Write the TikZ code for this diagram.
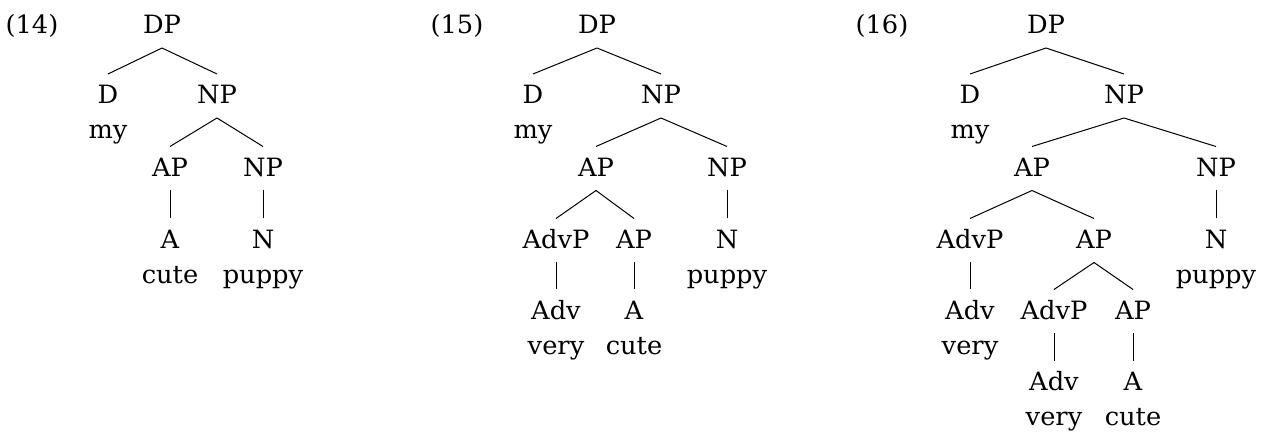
\documentclass[tikz,border=0pt]{standalone}
\usepackage{fontspec}
\setmainfont{DejaVu Serif}[FakeStretch=1.02]
\begin{document}
\begin{tikzpicture}[x=0.5pt,y=-0.5pt,
  txt/.style={anchor=base, font=\fontsize{12.6}{14}\selectfont},
  cat/.style={txt, inner xsep=0pt, inner ysep=6.8pt, text height=8pt, text depth=0pt},
  word/.style={txt, inner sep=0pt},
  edge/.style={line width=0.5pt}]
\useasboundingbox (0,0) rectangle (1265,432);
% ---------- (14)
\node[word] (l14) at (32,34) {(14)};
\node[cat] (a-dp) at (162,34) {DP};
\node[cat] (a-d) at (108,104) {D};
\node[word] (a-my) at (108,139) {my};
\node[cat] (a-np) at (217,104) {NP};
\node[cat] (a-ap) at (170,176.5) {AP};
\node[cat] (a-npb) at (263,176.5) {NP};
\node[cat] (a-a) at (170,248.5) {A};
\node[word] (a-cute) at (170,283.5) {cute};
\node[cat] (a-n) at (263,248.5) {N};
\node[word] (a-puppy) at (263,283.5) {puppy};
\draw[edge] (a-dp.south) -- (a-d.north);
\draw[edge] (a-dp.south) -- (a-np.north);
\draw[edge] (a-np.south) -- (a-ap.north);
\draw[edge] (a-np.south) -- (a-npb.north);
\draw[edge] (a-ap.south) -- (a-a.north);
\draw[edge] (a-npb.south) -- (a-n.north);
% ---------- (15)
\node[word] (l15) at (457,34) {(15)};
\node[cat] (b-dp) at (597,34) {DP};
\node[cat] (b-d) at (533,104) {D};
\node[word] (b-my) at (533,139) {my};
\node[cat] (b-np) at (661,104) {NP};
\node[cat] (b-ap) at (596,176.5) {AP};
\node[cat] (b-npb) at (727,176.5) {NP};
\node[cat] (b-advp) at (556,248.5) {AdvP};
\node[cat] (b-apb) at (634,248.5) {AP};
\node[cat] (b-adv) at (556,319.5) {Adv};
\node[word] (b-very) at (556,354.5) {very};
\node[cat] (b-a) at (634,319.5) {A};
\node[word] (b-cute) at (634,354.5) {cute};
\node[cat] (b-n) at (727,248.5) {N};
\node[word] (b-puppy) at (727,283.5) {puppy};
\draw[edge] (b-dp.south) -- (b-d.north);
\draw[edge] (b-dp.south) -- (b-np.north);
\draw[edge] (b-np.south) -- (b-ap.north);
\draw[edge] (b-np.south) -- (b-npb.north);
\draw[edge] (b-ap.south) -- (b-advp.north);
\draw[edge] (b-ap.south) -- (b-apb.north);
\draw[edge] (b-advp.south) -- (b-adv.north);
\draw[edge] (b-apb.south) -- (b-a.north);
\draw[edge] (b-npb.south) -- (b-n.north);
% ---------- (16)
\node[word] (l16) at (882,34) {(16)};
\node[cat] (c-dp) at (1046,34) {DP};
\node[cat] (c-d) at (970,104) {D};
\node[word] (c-my) at (970,139) {my};
\node[cat] (c-np) at (1124,104) {NP};
\node[cat] (c-ap) at (1032,176.5) {AP};
\node[cat] (c-npb) at (1216,176.5) {NP};
\node[cat] (c-advp) at (970,248.5) {AdvP};
\node[cat] (c-apb) at (1094,248.5) {AP};
\node[cat] (c-adv) at (970,319.5) {Adv};
\node[word] (c-very) at (970,354.5) {very};
\node[cat] (c-advpb) at (1054,319.5) {AdvP};
\node[cat] (c-apc) at (1133,319.5) {AP};
\node[cat] (c-advb) at (1054,391) {Adv};
\node[word] (c-veryb) at (1054,426) {very};
\node[cat] (c-a) at (1133,391) {A};
\node[word] (c-cute) at (1133,426) {cute};
\node[cat] (c-n) at (1216,248.5) {N};
\node[word] (c-puppy) at (1216,283.5) {puppy};
\draw[edge] (c-dp.south) -- (c-d.north);
\draw[edge] (c-dp.south) -- (c-np.north);
\draw[edge] (c-np.south) -- (c-ap.north);
\draw[edge] (c-np.south) -- (c-npb.north);
\draw[edge] (c-ap.south) -- (c-advp.north);
\draw[edge] (c-ap.south) -- (c-apb.north);
\draw[edge] (c-advp.south) -- (c-adv.north);
\draw[edge] (c-apb.south) -- (c-advpb.north);
\draw[edge] (c-apb.south) -- (c-apc.north);
\draw[edge] (c-advpb.south) -- (c-advb.north);
\draw[edge] (c-apc.south) -- (c-a.north);
\draw[edge] (c-npb.south) -- (c-n.north);
\end{tikzpicture}
\end{document}
